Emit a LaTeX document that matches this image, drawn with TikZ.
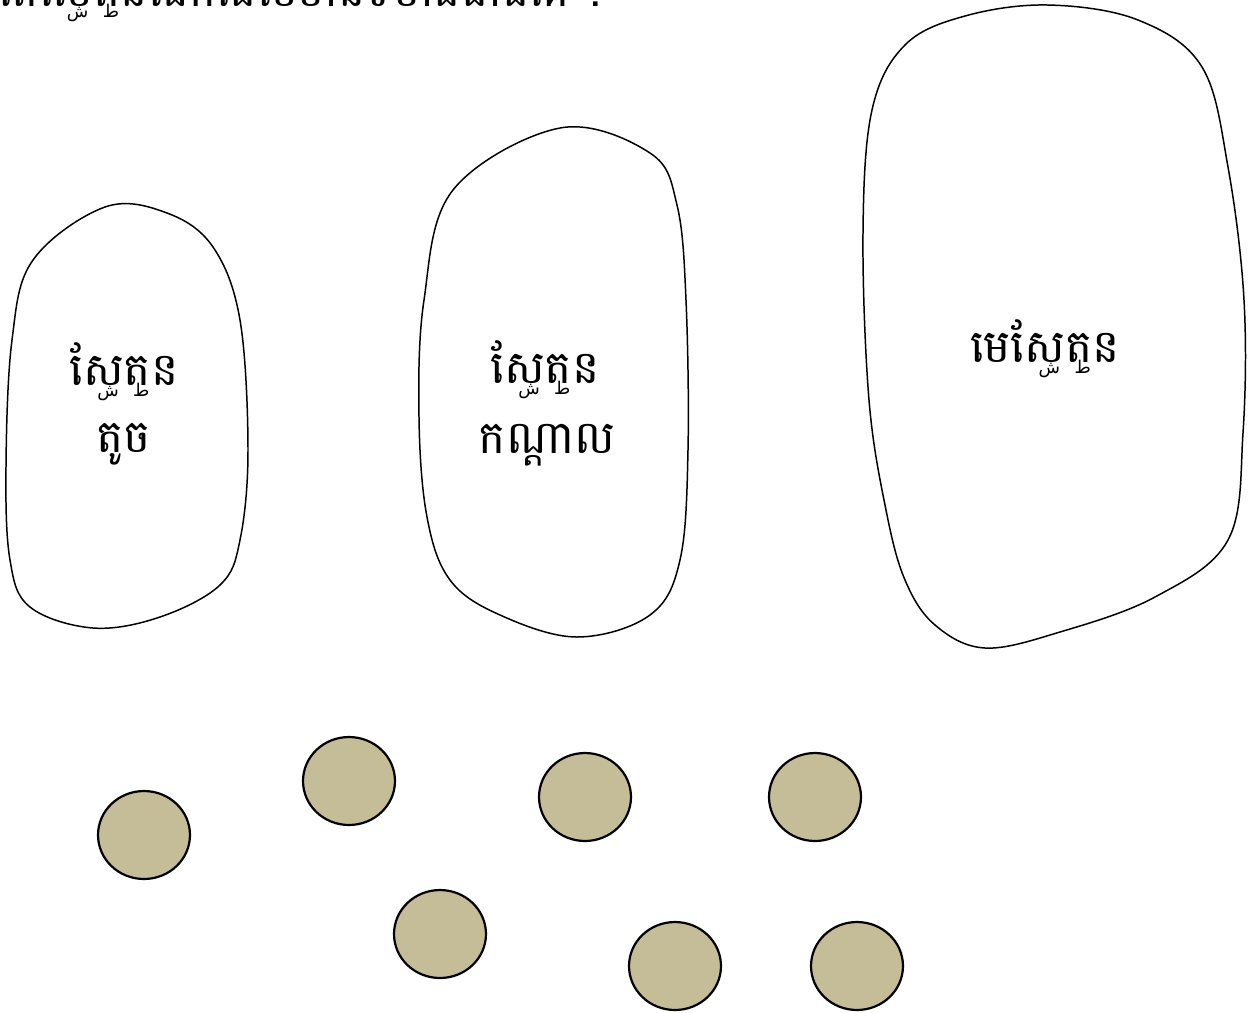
\documentclass[tikz,border=0pt]{standalone}
\usepackage{fontspec}
\newfontfamily\khmerfont[Script=Khmer]{Battambang}
\newfontfamily\arabicfont[Script=Arabic]{DejaVu Sans}
\usetikzlibrary{positioning}
\definecolor{beadtan}{HTML}{C4BD97}
% mark set under the preceding glyph
\newcommand{\undermark}[2]{\makebox[0pt][r]{\raisebox{-6.5pt}{\arabicfont\fontsize{10}{10}\selectfont #1}\hspace{#2}}}
\newcommand{\setword}{សែ\undermark{ش}{3pt}ត\undermark{ط}{1pt}ន}

\begin{document}
\begin{tikzpicture}[x=0.02cm, y=-0.02cm,
    blob/.style={draw=black, line width=0.85pt},
    bead/.style={draw=black, line width=1.25pt, fill=beadtan},
    label/.style={font=\khmerfont\fontsize{26}{38}\selectfont, align=center, inner sep=0pt}]
    \clip (0,0) rectangle (1255,1012);

    % Title line (cut off at the top)
    \node[label, anchor=base west] (title) at (-2,6) {តើ\setword ណាដែលមានទំហំធំជាងគេ ?};

    % Small set
    \draw[blob] plot[smooth cycle, tension=0.6] coordinates {(105,207) (167,213) (213,247) (240,320) (248,450) (240,540) (220,585) (160,617) (93,628) (30,607) (10,560) (6,467) (12,340) (33,260)};
    \node[label, anchor=base] (small) at (124,385) {\setword};
    \node[label, anchor=base] (smallb) at (124,452) {តូច};

    % Medium set
    \draw[blob] plot[smooth cycle, tension=0.6] coordinates {(560,128) (650,153) (677,205) (686,300) (688,450) (680,560) (650,615) (577,637) (500,615) (450,580) (427,517) (419,417) (424,300) (453,190)};
    \node[label, anchor=base] (medium) at (545,383) {\setword};
    \node[label, anchor=base] (mediumb) at (547,453) {កណ្ដាល};

    % Mother set
    \draw[blob] plot[smooth cycle, tension=0.6] coordinates {(1048,5) (1138,20) (1202,67) (1228,167) (1244,300) (1243,433) (1228,540) (1155,597) (1060,632) (985,648) (935,625) (905,580) (886,510) (869,400) (863,233) (872,110) (905,45) (965,16)};
    \node[label, anchor=base] (mother) at (1045,362) {មេ\setword};

    % Beads
    \foreach \bx/\by [count=\i] in {144/835, 349/781, 585/797, 815/797, 440/934, 675/966, 857/966}
        \draw[bead] (\bx,\by) ellipse (0.92cm and 0.88cm);
\end{tikzpicture}
\end{document}
